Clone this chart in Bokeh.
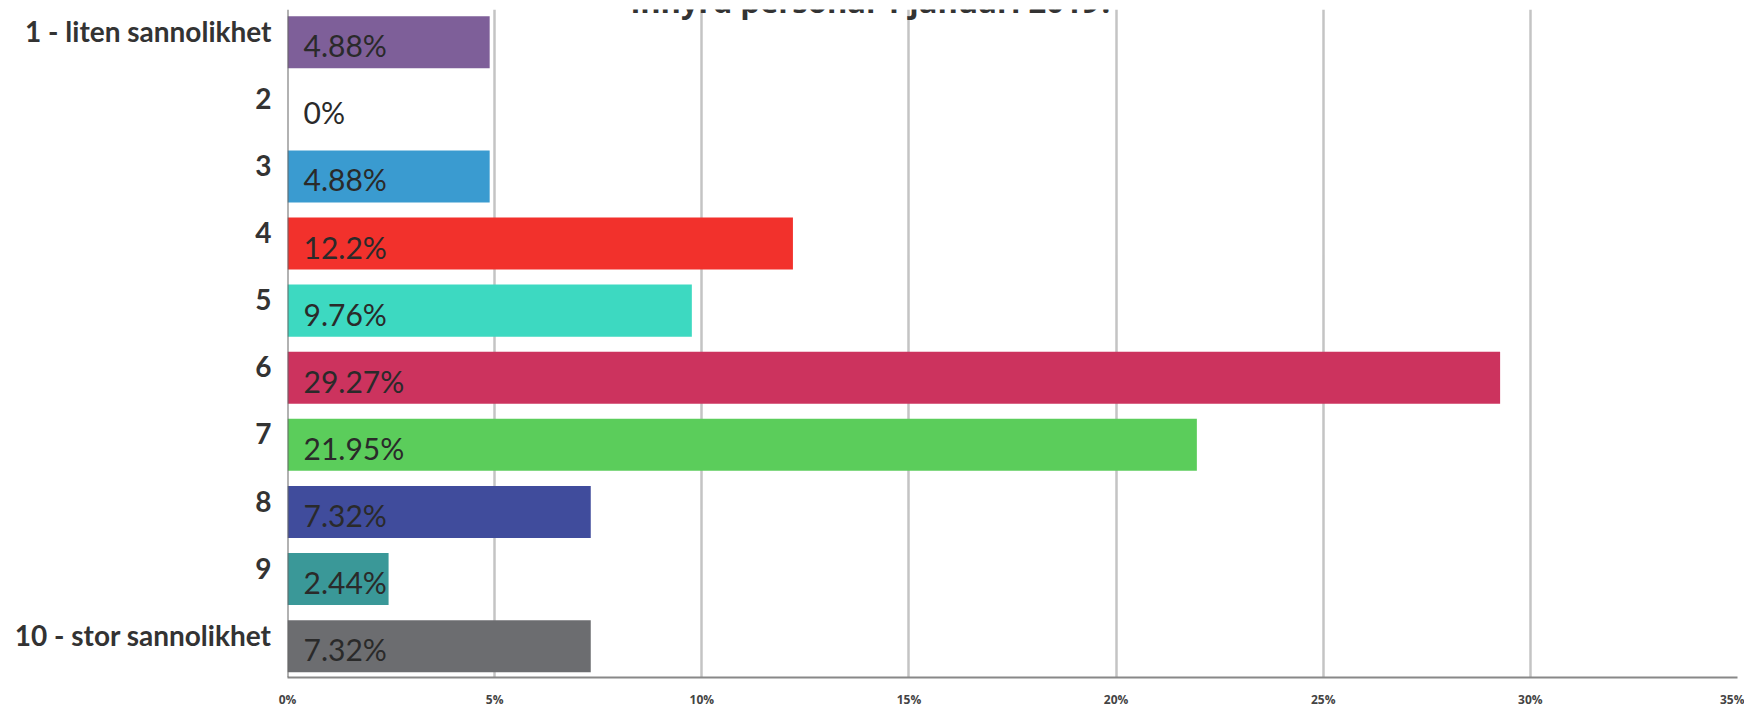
from bokeh.plotting import figure
from bokeh.models import (ColumnDataSource, Range1d, FixedTicker, PrintfTickFormatter,
                          LabelSet, Label, Span)
from bokeh.core.properties import value
from bokeh.embed import file_html
from bokeh.resources import INLINE

categories = ["1 - liten sannolikhet", "2", "3", "4", "5", "6", "7", "8", "9", "10 - stor sannolikhet"]
values = [4.88, 0, 4.88, 12.2, 9.76, 29.27, 21.95, 7.32, 2.44, 7.32]
value_labels = ["4.88%", "0%", "4.88%", "12.2%", "9.76%", "29.27%", "21.95%", "7.32%", "2.44%", "7.32%"]
colors = ["#7E5F99", "#FFFFFF", "#3A9BD0", "#F2312C", "#3DD9C1", "#CC335E", "#5BCD5B", "#404C9C", "#3A9898", "#6C6D70"]
x_ticks = [0, 5, 10, 15, 20, 25, 30, 35]
title_text = "inhyrd personal 1 januari 2019?"

n = len(categories)
ypos = [i + 0.5 for i in range(n)]          # slot centre of each category (top to bottom)
src = ColumnDataSource(dict(cat=categories, y=ypos, val=values, lab=value_labels, col=colors,
                            zero=[0] * n))

p = figure(width=1744, height=710, output_backend="svg", toolbar_location=None,
           y_range=Range1d(9.966, 0.0135), x_range=Range1d(0, 35))
p.min_border_left = 287
p.min_border_right = 7
p.min_border_top = 9
p.min_border_bottom = 32
p.outline_line_color = None
p.background_fill_color = "white"

p.hbar(y="y", right="val", left=0, height=0.775, fill_color="col", line_color=None, source=src)

# labels inside bars
p.add_layout(LabelSet(x="zero", y="y", text="lab", source=src, x_offset=16, y_offset=-3,
                      text_font=value("Lato"), text_font_size="30px", text_color="#2a2a2a",
                      text_align="left", text_baseline="middle"))

p.add_layout(Label(x=14.12, y=-0.12, text=title_text, text_font="Open Sans", text_font_size="31px",
                   text_font_style="bold", text_color="#333333", text_align="center",
                   text_baseline="alphabetic"))

p.add_layout(Span(location=0, dimension="height", line_color="#666666", line_width=2))

# category axis: labels sit slightly above the bar centres, as in the reference
cat_pos = [y - 0.17 for y in ypos]
p.yaxis.ticker = FixedTicker(ticks=cat_pos)
p.yaxis.major_label_overrides = {pos: c for pos, c in zip(cat_pos, categories)}
p.yaxis.major_label_text_font = "Lato"
p.yaxis.major_label_text_font_size = "28px"
p.yaxis.major_label_text_font_style = "bold"
p.yaxis.major_label_text_color = "#333333"
p.yaxis.major_label_standoff = 10
p.yaxis.major_tick_line_color = None
p.yaxis.minor_tick_line_color = None
p.yaxis.axis_line_color = None

p.xaxis.ticker = FixedTicker(ticks=x_ticks)
p.xaxis.formatter = PrintfTickFormatter(format="%d%%")
p.xaxis.major_label_text_font = "Open Sans"
p.xaxis.major_label_text_font_size = "12px"
p.xaxis.major_label_text_font_style = "bold"
p.xaxis.major_label_text_color = "#444444"
p.xaxis.major_label_standoff = 13
p.xaxis.major_tick_line_color = None
p.xaxis.minor_tick_line_color = None
p.xaxis.major_tick_out = 0
p.xaxis.major_tick_in = 0
p.xaxis.minor_tick_out = 0
p.xaxis.axis_label_standoff = 0
p.xaxis.axis_line_color = "#888888"
p.xaxis.axis_line_width = 2

p.xgrid.grid_line_color = "#c4c4c4"
p.xgrid.grid_line_width = 2.5
p.ygrid.grid_line_color = None

open("out.html", "w").write(file_html(p, INLINE))
